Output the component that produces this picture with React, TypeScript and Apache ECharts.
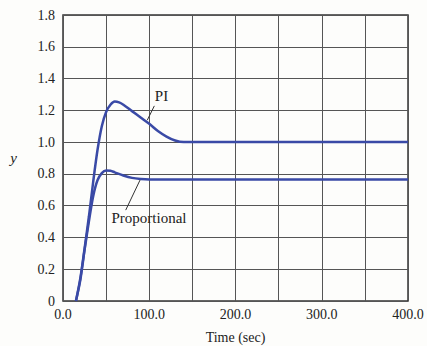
import React, { useEffect, useRef } from "react";
import * as echarts from "echarts";

const piTime = [15, 20, 25, 30, 35, 40, 45, 50, 55, 60, 65, 70, 80, 90, 100, 110, 120, 130, 140, 150, 200, 300, 400];
const piValue = [0, 0.14, 0.33, 0.53, 0.75, 0.95, 1.1, 1.19, 1.235, 1.255, 1.25, 1.235, 1.195, 1.155, 1.115, 1.07, 1.035, 1.01, 1.0, 1.0, 1.0, 1.0, 1.0];
const propTime = [15, 20, 25, 30, 35, 40, 45, 50, 55, 60, 70, 80, 90, 100, 150, 200, 300, 400];
const propValue = [0, 0.13, 0.32, 0.5, 0.66, 0.76, 0.805, 0.822, 0.82, 0.81, 0.79, 0.775, 0.768, 0.765, 0.765, 0.765, 0.765, 0.765];
const xTickLabels = ["0.0", "100.0", "200.0", "300.0", "400.0"];

const FONT = "Liberation Serif";
const BLUE = "#3a4aa6";

export default function App() {
  const ref = useRef<HTMLDivElement>(null);
  useEffect(() => {
    if (!ref.current) return;
    const chart = echarts.init(ref.current, null, { renderer: "svg" });
    const piData = piTime.map((t, i) => [t, piValue[i]]);
    const propData = propTime.map((t, i) => [t, propValue[i]]);
    chart.setOption({
      animation: false,
      backgroundColor: "#fdfdfb",
      grid: {
        left: 63, right: 19, top: 15, bottom: 45,
        containLabel: false, outerBoundsMode: "none",
        show: true, borderColor: "#333", borderWidth: 1.5,
      },
      xAxis: {
        type: "value",
        min: 0,
        max: 400,
        interval: 50,
        name: "Time (sec)",
        nameLocation: "middle",
        nameGap: 29,
        nameTextStyle: { fontFamily: FONT, fontSize: 14, color: "#222" },
        axisLine: { show: false },
        axisTick: { show: false },
        splitLine: { show: true, lineStyle: { color: "#555", width: 1 } },
        axisLabel: {
          fontFamily: FONT,
          fontSize: 14,
          color: "#222",
          margin: 6,
          formatter: (v: number) => (v % 100 === 0 ? xTickLabels[v / 100] : ""),
        },
      },
      yAxis: {
        type: "value",
        min: 0,
        max: 1.8,
        interval: 0.2,
        name: "y",
        nameLocation: "middle",
        nameRotate: 0,
        nameGap: 46,
        nameTextStyle: { fontFamily: FONT, fontSize: 15, fontStyle: "italic", color: "#222", padding: [6, 0, 0, 0] },
        axisLine: { show: false },
        axisTick: { show: false },
        splitLine: { show: true, lineStyle: { color: "#555", width: 1 } },
        axisLabel: {
          fontFamily: FONT,
          fontSize: 14,
          color: "#222",
          margin: 8,
          formatter: (v: number) => (Math.abs(v) < 1e-9 ? "0" : v.toFixed(1)),
        },
      },
      series: [
        {
          name: "PI",
          type: "line",
          data: piData,
          smooth: 0.3,
          showSymbol: false,
          lineStyle: { color: BLUE, width: 2.5 },
          markLine: {
            silent: true,
            symbol: "none",
            label: { show: false },
            lineStyle: { color: "#333", width: 1, type: "solid" },
            data: [[{ coord: [105.9, 1.228] }, { coord: [97.7, 1.138] }]],
          },
          markPoint: {
            silent: true,
            symbol: "circle",
            symbolSize: 0,
            label: { show: true, formatter: "PI", fontFamily: FONT, fontSize: 15, color: "#222", position: "inside" },
            data: [{ coord: [114.2, 1.29] }],
          },
        },
        {
          name: "Proportional",
          type: "line",
          data: propData,
          smooth: 0.3,
          showSymbol: false,
          lineStyle: { color: BLUE, width: 2.5 },
          markLine: {
            silent: true,
            symbol: "none",
            label: { show: false },
            lineStyle: { color: "#333", width: 1, type: "solid" },
            data: [[{ coord: [72.7, 0.572] }, { coord: [89.3, 0.761] }]],
          },
          markPoint: {
            silent: true,
            symbol: "circle",
            symbolSize: 0,
            label: { show: true, formatter: "Proportional", fontFamily: FONT, fontSize: 15, color: "#222", position: "inside" },
            data: [{ coord: [99.7, 0.525] }],
          },
        },
      ],
    });
    return () => chart.dispose();
  }, []);
  return <div ref={ref} style={{ width: 427, height: 346, position: "absolute", left: 0, top: 0 }} />;
}
